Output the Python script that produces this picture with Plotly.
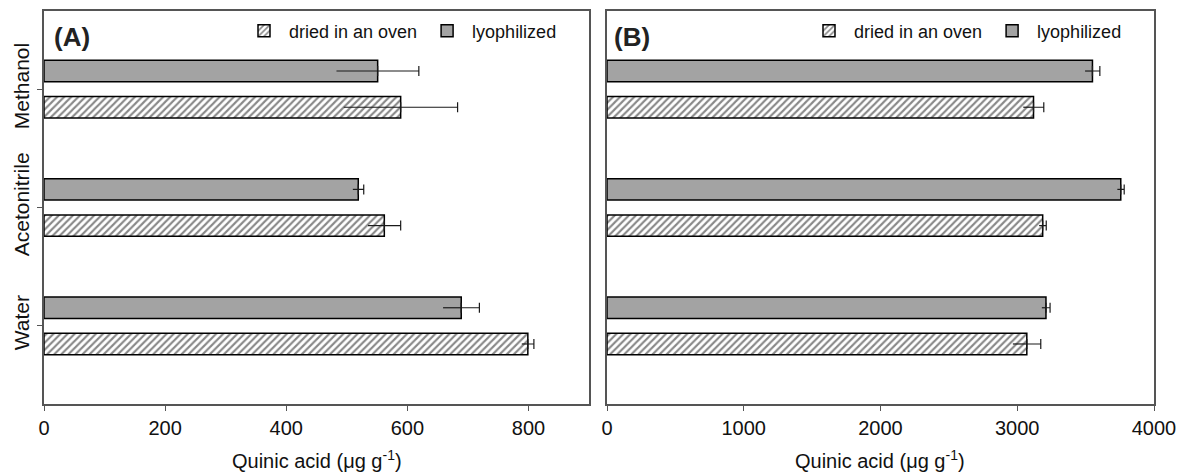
import plotly.graph_objects as go

# ---- data ----
categories = ["Water", "Acetonitrile", "Methanol"]
legend_names = ["dried in an oven", "lyophilized"]

a_oven = [799, 562, 589]
a_oven_err = [10, 27, 94]
a_lyo = [689, 519, 551]
a_lyo_err = [30, 9, 68]

b_oven = [3070, 3186, 3119]
b_oven_err = [102, 26, 75]
b_lyo = [3210, 3757, 3550]
b_lyo_err = [30, 25, 54]

panel_labels = ["(A)", "(B)"]
x_title = "Quinic acid (μg g<sup>-1</sup>)"
x_ticks_a = [0, 200, 400, 600, 800]
x_ticks_b = [0, 1000, 2000, 3000, 4000]

# ---- style ----
FONT = "Liberation Sans, Arial, sans-serif"
GREY = "#a3a3a3"
LINE = "#555555"
BAR_W = 0.18
OFF = 0.153

W, H = 1179, 472
def px_x(p):
    return p / W
def px_y(p):
    return 1 - p / H

fig = go.Figure()

pos = list(range(len(categories)))
y_oven = [p - OFF for p in pos]
y_lyo = [p + OFF for p in pos]

def add_panel(xa, ya, oven, oven_err, lyo, lyo_err, legend):
    fig.add_trace(go.Bar(
        x=oven, y=y_oven, orientation="h", width=BAR_W,
        name=legend_names[0], legend=legend,
        marker=dict(color="white", line=dict(color="black", width=1.5),
                    pattern=dict(shape="/", fgcolor="#111111", bgcolor="white",
                                 size=5, solidity=0.42)),
        error_x=dict(type="data", symmetric=False, array=oven_err,
                     arrayminus=[0] * len(oven_err), color="#1a1a1a",
                     thickness=1.2, width=5),
        xaxis=xa, yaxis=ya,
    ))
    fig.add_trace(go.Bar(
        x=lyo, y=y_lyo, orientation="h", width=BAR_W,
        name=legend_names[1], legend=legend,
        marker=dict(color=GREY, line=dict(color="black", width=1.5)),
        error_x=dict(type="data", symmetric=False, array=lyo_err,
                     arrayminus=[0] * len(lyo_err), color="#1a1a1a",
                     thickness=1.2, width=5),
        xaxis=xa, yaxis=ya,
    ))
    for vals, errs, ys in ((oven, oven_err, y_oven), (lyo, lyo_err, y_lyo)):
        fig.add_trace(go.Scatter(
            x=vals, y=ys, mode="markers", marker=dict(size=1, opacity=0),
            showlegend=False, hoverinfo="skip",
            error_x=dict(type="data", symmetric=False, array=[0] * len(errs),
                         arrayminus=errs, color="#1a1a1a", thickness=1.2, width=0),
            xaxis=xa, yaxis=ya,
        ))

add_panel("x", "y", a_oven, a_oven_err, a_lyo, a_lyo_err, "legend")
add_panel("x2", "y2", b_oven, b_oven_err, b_lyo, b_lyo_err, "legend2")

common_x = dict(showgrid=False, zeroline=False, showline=True, linecolor=LINE, linewidth=1.5,
                mirror=True, ticks="outside", ticklen=5, tickwidth=1.2, tickcolor=LINE,
                automargin=False,
                tickfont=dict(size=20, family=FONT, color="#111"))
common_y = dict(showgrid=False, zeroline=False, showline=True, linecolor=LINE, linewidth=1.5,
                mirror=True, range=[-0.66, 2.66], automargin=False)

y_dom = [px_y(404), px_y(11)]
xa_dom = [px_x(44), px_x(589)]
xb_dom = [px_x(607), px_x(1154)]

ann = []
for lab, xp in zip(panel_labels, (52, 612)):
    ann.append(dict(text="<b>%s</b>" % lab, x=px_x(xp), y=px_y(37), xref="paper", yref="paper",
                    xanchor="left", yanchor="middle", showarrow=False,
                    font=dict(size=26, family=FONT, color="#222")))
for dom in (xa_dom, xb_dom):
    ann.append(dict(text=x_title, x=(dom[0] + dom[1]) / 2, y=px_y(459), xref="paper", yref="paper",
                    xanchor="center", yanchor="middle", showarrow=False,
                    font=dict(size=20, family=FONT, color="#111")))

leg = dict(orientation="h", yanchor="middle", y=px_y(31), xanchor="right",
           bgcolor="rgba(0,0,0,0)", font=dict(size=18, family=FONT, color="#111"),
           itemwidth=40, traceorder="normal")

fig.update_layout(
    width=W, height=H, margin=dict(l=0, r=0, t=0, b=0, autoexpand=False),
    autosize=False,
    paper_bgcolor="white", plot_bgcolor="white",
    barmode="overlay",
    font=dict(family=FONT, color="#111"),
    xaxis=dict(domain=xa_dom, range=[0, 900], tickvals=x_ticks_a, **common_x),
    xaxis2=dict(domain=xb_dom, range=[0, 4000], tickvals=x_ticks_b, anchor="y2", **common_x),
    yaxis=dict(domain=y_dom, tickvals=pos, ticktext=categories, tickangle=-90,
               ticks="outside", ticklen=5, tickwidth=1.2, tickcolor=LINE,
               tickfont=dict(size=21, family=FONT, color="#111"), **common_y),
    yaxis2=dict(domain=y_dom, anchor="x2", showticklabels=False, ticks="", **common_y),
    legend=dict(x=px_x(562), **leg),
    legend2=dict(x=px_x(1127), **leg),
    annotations=ann,
)

fig.write_html("out.html")
